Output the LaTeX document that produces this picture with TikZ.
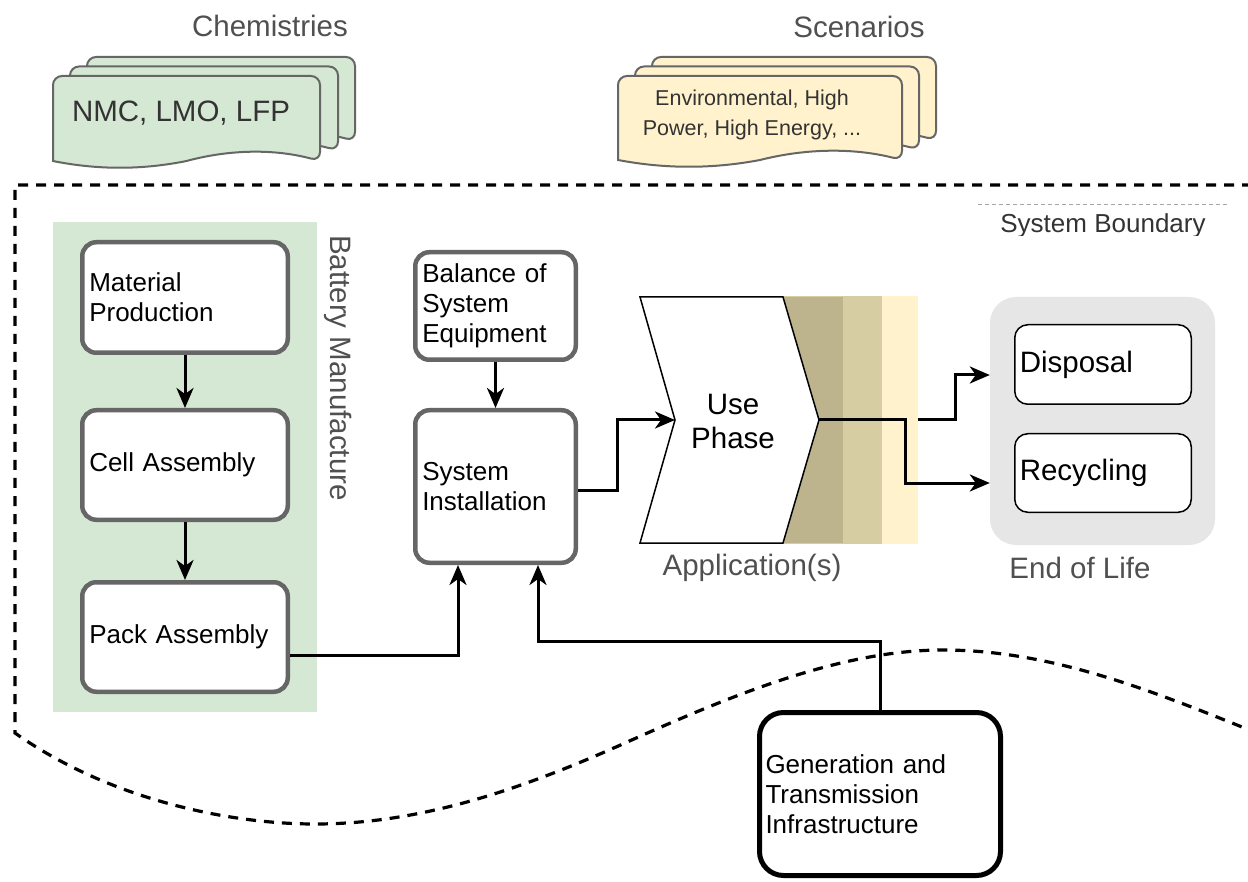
\documentclass[tikz,border=0pt]{standalone}
\usepackage{fontspec}
\setmainfont{Liberation Sans}
\usetikzlibrary{arrows.meta}

\definecolor{mfgreen}{HTML}{D5E8D4}
\definecolor{scenyellow}{HTML}{FFF2CC}
\definecolor{edgegray}{HTML}{666666}
\definecolor{labelgray}{HTML}{505050}
\definecolor{eolgray}{HTML}{E6E6E6}
\definecolor{banddark}{HTML}{BDB48E}
\definecolor{bandmid}{HTML}{D6CDA2}
\definecolor{bandlight}{HTML}{FFF2CC}

\newcommand{\procfont}{\fontsize{26}{30}\selectfont}
\newcommand{\lblfont}{\fontsize{29.5}{34}\selectfont}
\newcommand{\scenfont}{\fontsize{21.5}{30}\selectfont}

% one sheet of a document stack: style, left x, top y, width, height;
% the lower edge is a wave dipping on the left and rising on the right
\newcommand{\docsheet}[5]{%
  \pgfmathsetmacro{\shx}{#2}\pgfmathsetmacro{\shy}{#3}%
  \pgfmathsetmacro{\shw}{#4}\pgfmathsetmacro{\shh}{#5}%
  \pgfmathsetmacro{\shb}{\shy+\shh}%
  \pgfmathsetmacro{\shup}{\shb-12}%
  \pgfmathsetmacro{\shdn}{\shb+9}%
  \draw[#1] (\shx,\shb) [rounded corners=9pt] -- (\shx,\shy) -- (\shx+\shw,\shy) -- (\shx+\shw,\shb) [sharp corners]
    .. controls (\shx+5*\shw/6,\shup) and (\shx+4*\shw/6,\shup) .. (\shx+\shw/2,\shb)
    .. controls (\shx+2*\shw/6,\shdn) and (\shx+\shw/6,\shdn) .. (\shx,\shb) -- cycle;
}

\begin{document}
\begin{tikzpicture}[x=1pt,y=-1pt,
  procbox/.style n args={3}{draw=edgegray, line width=4.5pt, rounded corners=14pt, fill=white,
    minimum width=#1, minimum height=#2, text width=#3, align=left,
    inner xsep=7pt, inner ysep=0pt, font=\procfont},
  genbox/.style={draw=black, line width=5pt, rounded corners=24pt, fill=white,
    minimum width=241pt, minimum height=163pt, text width=229pt, align=left,
    inner xsep=6pt, inner ysep=0pt, font=\procfont},
  outbox/.style={draw=black, line width=1.5pt, rounded corners=13pt, fill=white,
    minimum width=176.5pt, minimum height=#1, text width=166.5pt, align=left,
    inner xsep=5pt, inner ysep=0pt, font=\lblfont},
  grouplabel/.style={text=labelgray, font=\lblfont, inner sep=0pt},
  band/.style={draw=none, inner sep=0pt, minimum height=248pt},
  boundary/.style={line width=3.2pt, dash pattern=on 10pt off 8pt},
  conn/.style={line width=3pt, -{Stealth[length=20pt, width=17pt, inset=6pt]}},
  sheetgreen/.style={fill=mfgreen, draw=edgegray, line width=2pt},
  sheetyellow/.style={fill=scenyellow, draw=edgegray, line width=2pt}
]
\useasboundingbox (0,0) rectangle (1248,882);
\fill[white] (0,0) rectangle (1248,882);

% system boundary
\draw[boundary] (1252,185) -- (15,185) -- (15,733)
  .. controls (110,800) and (230,824) .. (315,824)
  .. controls (420,824) and (520,790) .. (625,743)
  .. controls (730,696) and (840,650) .. (943,650)
  .. controls (1050,650) and (1150,690) .. (1252,731);
\draw[gray!70, line width=0.8pt, dash pattern=on 4pt off 3pt] (978,204) -- (1227,204);
\begin{scope}
  \clip (960,190) rectangle (1248,236);
  \node[anchor=base, text=black!80, font=\procfont, inner sep=0pt] (sysbnd) at (1103,233) {System Boundary};
\end{scope}

% chemistries stack
\docsheet{sheetgreen}{87}{57}{268}{84}
\docsheet{sheetgreen}{70}{66.5}{268}{84}
\docsheet{sheetgreen}{53}{76}{267}{85}
\node[anchor=base, text=black!80, font=\lblfont, inner sep=0pt] (chemtext) at (181,122) {NMC, LMO, LFP};
\node[grouplabel, anchor=base] (chemlbl) at (270,37) {Chemistries};

% scenarios stack
\docsheet{sheetyellow}{652}{57}{284}{83}
\docsheet{sheetyellow}{635}{66.5}{284}{83}
\docsheet{sheetyellow}{618}{76}{284}{84}
\node[align=center, text=black!80, font=\scenfont, inner sep=0pt] (scentext) at (752,115) {Environmental, High\\Power, High Energy, ...};
\node[grouplabel, anchor=base] (scenlbl) at (859,38) {Scenarios};

% battery manufacture
\node[fill=mfgreen, minimum width=264pt, minimum height=490pt, inner sep=0pt] (mfg) at (185,467) {};
\node[grouplabel, anchor=base, rotate=-90] (mfglbl) at (330,368) {Battery Manufacture};
\node[procbox={205.5pt}{110.5pt}{191.5pt}] (mat) at (185,297.5) {Material\\Production};
\node[procbox={205.5pt}{109.5pt}{191.5pt}] (cell) at (185,465) {Cell Assembly};
\node[procbox={205.5pt}{109.5pt}{191.5pt}] (pack) at (185,637) {Pack Assembly};

% installation
\node[procbox={160.5pt}{107.5pt}{146.5pt}] (bos) at (495.5,306) {Balance of\\System\\Equipment};
\node[procbox={160.5pt}{152.5pt}{146.5pt}] (si) at (495.5,486.5) {System\\Installation};

% use phase
\node[band, fill=bandlight, minimum width=198pt] (bandlight) at (819,420) {};
\node[band, fill=bandmid, minimum width=142pt] (bandmid) at (811,420) {};
\node[band, fill=banddark, minimum width=83pt, minimum height=246pt] (banddark) at (801.5,420) {};
\draw[fill=white, line width=1.5pt, line join=miter]
  (640,297) -- (783,297) -- (819,420) -- (783,543) -- (640,543) -- (675,420) -- cycle;
\coordinate (notch) at (675,420);
\coordinate (tip) at (819,420);
\node[align=center, font=\lblfont, inner sep=0pt] (use) at (733,421) {Use\\Phase};
\node[grouplabel, anchor=base] (applbl) at (752,575) {Application(s)};

% end of life
\node[fill=eolgray, rounded corners=26pt, minimum width=225pt, minimum height=248pt, inner sep=0pt] (eol) at (1102.5,421) {};
\node[outbox=79.5pt] (disp) at (1103,364.5) {Disposal};
\node[outbox=78.5pt] (rec) at (1103,473) {Recycling};
\node[grouplabel, anchor=base] (eollbl) at (1080,578) {End of Life};

% generation
\node[genbox] (gen) at (880,794) {Generation and\\Transmission\\Infrastructure};

% flows
\draw[conn] (mat.south) -- (cell.north);
\draw[conn] (cell.south) -- (pack.north);
\draw[conn] (bos.south) -- (si.north);
\draw[conn] ([yshift=-18pt]pack.east) -| ([xshift=-37.5pt]si.south);
\draw[conn] (gen.north) -- ++(0,-69) -| ([xshift=42.5pt]si.south);
\draw[conn] ([yshift=-3.5pt]si.east) -- ++(39,0) |- (notch);
\draw[conn] (tip) -- ++(86,0) |- ([yshift=-62pt]eol.west);
\draw[conn] (bandlight.east) -- ++(37,0) |- ([yshift=46pt]eol.west);
\end{tikzpicture}
\end{document}
